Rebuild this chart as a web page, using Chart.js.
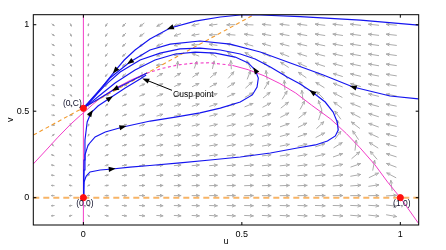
<!DOCTYPE html>
<html><head><meta charset="utf-8">
<script src="https://cdn.jsdelivr.net/npm/chart.js@4.4.1/dist/chart.umd.min.js"></script>
<style>html,body{margin:0;padding:0;background:#fff;overflow:hidden}#wrap{width:446px;height:250px;position:relative}</style>
</head><body><div id="wrap"><canvas id="c"></canvas></div>
<script>
// ---------- axes ----------
const uRange = [-0.158, 1.058];
const vRange = [-0.158, 1.058];
const uTicks = [0, 0.5, 1];
const vTicks = [0, 0.5, 1];

// ---------- direction field (grid + estimated arrow angles, degrees in data space) ----------
const gridU = [-0.096,-0.040,0.016,0.073,0.129,0.185,0.241,0.297,0.354,0.410,0.466,0.522,0.578,0.635,0.691,0.747,0.803,0.859,0.916,0.972];
const gridV = [1.000,0.942,0.884,0.826,0.768,0.709,0.651,0.593,0.535,0.477,0.419,0.361,0.303,0.245,0.187,0.129,0.070,0.012,-0.046,-0.104];
const fieldAngle = [
 [307,284,265,252,242,234,225,216,204,192,182,175,170,168,167,167,168,168,169,170],
 [309,285,265,251,241,232,223,212,197,183,172,165,162,162,162,164,165,166,168,169],
 [312,286,265,250,239,230,220,205,184,165,155,152,152,154,157,159,162,164,166,167],
 [314,287,264,248,238,229,215,187,146,129,127,131,137,144,150,155,158,162,164,166],
 [317,289,264,247,237,228,194,88,79,83,92,104,118,130,141,149,154,159,162,165],
 [320,291,263,246,238,270,47,49,52,57,65,78,94,113,128,141,150,156,160,164],
 [324,294,262,245,345,39,39,39,41,45,50,59,72,92,113,131,144,152,158,162],
 [329,298,261,0,42,37,35,34,35,37,40,46,56,72,94,118,136,148,156,161],
 [336,308,90,56,41,35,32,30,30,31,33,37,44,55,74,101,126,143,153,160],
 [345,9,82,54,39,32,28,27,26,26,28,30,35,43,56,80,112,136,150,158],
 [2,99,80,51,36,29,25,23,22,23,23,25,28,33,42,60,92,125,146,157],
 [56,112,78,46,32,25,22,20,19,19,19,20,22,26,32,44,68,110,140,155],
 [122,120,76,42,28,22,19,17,16,16,16,16,18,20,24,31,48,86,131,153],
 [144,127,73,36,23,18,15,14,13,12,12,13,14,15,18,22,32,57,115,150],
 [156,136,67,29,18,14,12,10,10,9,9,9,10,11,12,15,20,33,84,145],
 [165,147,59,21,13,10,8,7,7,6,6,6,7,7,8,9,12,18,42,136],
 [172,161,42,12,7,5,4,4,4,3,3,3,3,4,4,5,6,8,15,94],
 [179,177,9,2,1,1,1,1,1,1,1,1,1,1,1,1,1,1,2,6],
 [185,192,329,352,355,357,357,358,358,358,358,358,358,358,358,357,357,356,354,348],
 [191,206,307,343,350,352,354,354,355,355,355,355,355,355,355,354,354,352,349,342]
];
const arrowLen = [2.5,2.5,2,3,4,5,6,6.5,7,7.5,8,8.5,8.5,9,9,9.5,9.5,10,10,10];

// ---------- nullclines ----------
const uNullAxis = [[0,-0.158],[0,1.058]];
const uNullLeft = [[-0.158,0.195],[-0.12,0.27],[-0.08,0.35],[-0.04,0.425],[-0.01,0.475],[0,0.49]];
const uNullInner = [[0,0.49],[0.03,0.54],[0.06,0.585],[0.10,0.632],[0.15,0.68],[0.20,0.72]];
const uNullDashed = [[0.20,0.72],[0.25,0.748],[0.30,0.768],[0.35,0.778],[0.40,0.78],[0.47,0.765]];
const uNullRight = [[0.47,0.765],[0.52,0.74],[0.57,0.705],[0.62,0.66],[0.67,0.605],[0.72,0.535],[0.78,0.455],[0.83,0.37],[0.873,0.288],[0.92,0.19],[0.96,0.09],[1.0,0.0],[1.058,-0.15]];
const vNullDiag = [[-0.158,0.362],[0.538,1.058]];
const vNullAxis = [[-0.158,0],[1.058,0]];

// ---------- trajectories (time-forward order) ----------
const traj1 = [[1.057,0.998],[0.874,1.027],[0.684,1.047],[0.558,1.056],[0.495,1.056],[0.432,1.045],[0.353,1.021],[0.274,0.981],[0.210,0.917],[0.163,0.854],[0.129,0.796],[0.100,0.733],[0.069,0.663],[0.037,0.588],[0.015,0.542],[0,0.517]];
const traj2 = [[1.057,0.571],[0.968,0.588],[0.851,0.640],[0.757,0.709],[0.653,0.779],[0.558,0.842],[0.463,0.888],[0.368,0.906],[0.274,0.888],[0.210,0.854],[0.147,0.784],[0.084,0.692],[0.037,0.594],[0.009,0.536],[0,0.517]];
const traj3 = [[0,0],[0.001,0.045],[0.002,0.091],[0.009,0.125],[0.021,0.149],[0.053,0.160],[0.091,0.166],[0.147,0.177],[0.210,0.186],[0.305,0.201],[0.400,0.218],[0.495,0.235],[0.590,0.258],[0.675,0.287],[0.732,0.305],[0.770,0.328],[0.795,0.357],[0.804,0.391],[0.801,0.438],[0.788,0.495],[0.763,0.553],[0.722,0.611],[0.684,0.657],[0.643,0.698],[0.590,0.755],[0.542,0.802],[0.495,0.831],[0.432,0.854],[0.368,0.865],[0.305,0.860],[0.242,0.836],[0.179,0.796],[0.116,0.727],[0.069,0.651],[0.037,0.588],[0.015,0.547],[0.002,0.524],[0,0.517]];
const traj4 = [[0,0],[0.001,0.073],[0.002,0.160],[0.005,0.247],[0.015,0.305],[0.037,0.351],[0.069,0.380],[0.125,0.409],[0.211,0.443],[0.290,0.466],[0.368,0.490],[0.432,0.518],[0.495,0.553],[0.533,0.594],[0.548,0.640],[0.552,0.692],[0.542,0.738],[0.520,0.779],[0.479,0.813],[0.416,0.836],[0.353,0.842],[0.290,0.831],[0.226,0.796],[0.163,0.738],[0.100,0.663],[0.053,0.594],[0.021,0.547],[0.005,0.524],[0,0.517]];
const traj5 = [[0,0],[0.001,0.102],[0.002,0.218],[0.005,0.334],[0.012,0.438],[0.024,0.49],[0.046,0.53],[0.084,0.576],[0.132,0.634],[0.179,0.686],[0.198,0.709]];
const traj6 = [[0.201,0.721],[0.163,0.686],[0.132,0.657],[0.100,0.628],[0.069,0.594],[0.037,0.559],[0.015,0.536],[0,0.517]];
const trajectories = [traj1, traj2, traj3, traj4, traj5, traj6];
// indices along each trajectory where a direction arrowhead sits
const trajArrowIdx = [[7,11],[2,10],[6,21],[7,16],[5,7],[3]];

// ---------- equilibria and annotations ----------
const eqU = [0, 0, 1];
const eqV = [0, 0.517, 0];
const eqLabels = ['(0,0)', '(0,C)', '(1,0)'];
const cuspU = 0.185, cuspV = 0.69;
const cuspLabel = 'Cusp point';

const xy = a => a.map(p => ({x: p[0], y: p[1]}));
const FONT = 'Liberation Sans, Arial, Helvetica, sans-serif';
const BLUE = '#1414f0', MAG = '#f23cc8';

const lineDS = (data, color, width, dash) => ({data: xy(data), showLine: true, borderColor: color, borderWidth: width, borderDash: dash || [], pointRadius: 0, fill: false, tension: 0});

const datasets = [];
datasets.push({data: eqU.map((u,i)=>({x:u,y:eqV[i]})), pointRadius: 3.1, pointBackgroundColor: '#ff1010', pointBorderColor: '#ff1010', showLine: false, order: 0});
trajectories.forEach(t => { const d = lineDS(t, BLUE, 1.15); d.order = 1; datasets.push(d); });
[[vNullDiag,'#f39a2c',1.1,[4,3]],[vNullAxis,'#f8b466',2,[6,4]]].forEach(o=>{const d=lineDS(o[0],o[1],o[2],o[3]); d.order=2; datasets.push(d);});
[[uNullAxis,MAG,1,null],[uNullLeft,MAG,1,null],[uNullInner,MAG,1,null],[uNullDashed,MAG,1.1,[3,2.5]],[uNullRight,MAG,1,null]].forEach(o=>{const d=lineDS(o[0],o[1],o[2],o[3]); d.order=3; datasets.push(d);});

function arrowHead(ctx, x, y, dx, dy, len, half, color){
  const n = Math.hypot(dx,dy)||1; dx/=n; dy/=n;
  const tx = x + dx*len/2, ty = y + dy*len/2;
  const bx = x - dx*len/2, by = y - dy*len/2;
  ctx.beginPath();
  ctx.moveTo(tx,ty);
  ctx.lineTo(bx - dy*half, by + dx*half);
  ctx.lineTo(bx + dy*half, by - dx*half);
  ctx.closePath();
  ctx.fillStyle = color; ctx.fill();
}

const phasePlugin = {
  id: 'phase',
  beforeDatasetsDraw(chart){
    const ctx = chart.ctx, xs = chart.scales.x, ys = chart.scales.y;
    const pu = xs.getPixelForValue(1) - xs.getPixelForValue(0);
    const pv = ys.getPixelForValue(0) - ys.getPixelForValue(1);
    ctx.save();
    ctx.strokeStyle = '#ababab'; ctx.lineWidth = 1; ctx.lineCap='round';
    gridV.forEach((v,i)=>{
      gridU.forEach((u,j)=>{
        const th = fieldAngle[i][j]*Math.PI/180;
        let dx = Math.cos(th)*pu, dy = -Math.sin(th)*pv;
        const n = Math.hypot(dx,dy); dx/=n; dy/=n;
        const L = arrowLen[j];
        const cx = xs.getPixelForValue(u), cy = ys.getPixelForValue(v);
        const x0 = cx - dx*L/2, y0 = cy - dy*L/2, x1 = cx + dx*L/2, y1 = cy + dy*L/2;
        ctx.beginPath(); ctx.moveTo(x0,y0); ctx.lineTo(x1,y1);
        const h = Math.min(3, L*0.45), a = 0.45;
        const ca = Math.cos(a), sa = Math.sin(a);
        ctx.moveTo(x1,y1); ctx.lineTo(x1 - h*(dx*ca - dy*sa), y1 - h*(dy*ca + dx*sa));
        ctx.moveTo(x1,y1); ctx.lineTo(x1 - h*(dx*ca + dy*sa), y1 - h*(dy*ca - dx*sa));
        ctx.stroke();
      });
    });
    ctx.restore();
  },
  afterDatasetsDraw(chart){
    const ctx = chart.ctx, xs = chart.scales.x, ys = chart.scales.y, ca = chart.chartArea;
    ctx.save();
    trajectories.forEach((t,k)=>{
      trajArrowIdx[k].forEach(i=>{
        const p = t[i], q = t[Math.min(i+1,t.length-1)], r = t[Math.max(i-1,0)];
        const x = xs.getPixelForValue(p[0]), y = ys.getPixelForValue(p[1]);
        const dx = xs.getPixelForValue(q[0]) - xs.getPixelForValue(r[0]);
        const dy = ys.getPixelForValue(q[1]) - ys.getPixelForValue(r[1]);
        arrowHead(ctx, x, y, dx, dy, 7, 2.6, '#000');
      });
    });
    const cx = xs.getPixelForValue(cuspU), cy = ys.getPixelForValue(cuspV);
    ctx.strokeStyle = '#000'; ctx.lineWidth = 1;
    ctx.beginPath(); ctx.moveTo(cx+30, cy+12); ctx.lineTo(cx+4, cy+1.6); ctx.stroke();
    arrowHead(ctx, cx+3.5, cy+1.4, -26, -10.4, 7, 2.6, '#000');
    ctx.fillStyle = '#000'; ctx.font = '8.5px ' + FONT; ctx.textAlign='left'; ctx.textBaseline='middle';
    ctx.fillText(cuspLabel, cx+31, cy+16.5);
    ctx.fillStyle = '#10102a'; ctx.font = '8.5px ' + FONT; ctx.textAlign='center';
    const offs = [[1.5,6],[-11,-5],[1.5,6]];
    eqU.forEach((u,i)=>{
      ctx.fillText(eqLabels[i], xs.getPixelForValue(u)+offs[i][0], ys.getPixelForValue(eqV[i])+offs[i][1]);
    });
    ctx.strokeStyle = '#000'; ctx.lineWidth = 1;
    ctx.strokeRect(ca.left, ca.top, ca.right-ca.left, ca.bottom-ca.top);
    ctx.beginPath();
    uTicks.forEach(t=>{ const x = xs.getPixelForValue(t); ctx.moveTo(x, ca.bottom); ctx.lineTo(x, ca.bottom-3); ctx.moveTo(x, ca.top); ctx.lineTo(x, ca.top+3); });
    vTicks.forEach(t=>{ const y = ys.getPixelForValue(t); ctx.moveTo(ca.left, y); ctx.lineTo(ca.left+3, y); ctx.moveTo(ca.right, y); ctx.lineTo(ca.right-3, y); });
    ctx.stroke();
    ctx.restore();
  }
};

new Chart(document.getElementById('c'), {
  type: 'scatter',
  data: {datasets},
  options: {
    responsive: true, maintainAspectRatio: false, animation: false, devicePixelRatio: 1,
    layout: {padding: {top: 14.7, right: 27.3, left: 0, bottom: 0}},
    plugins: {legend: {display: false}, tooltip: {enabled: false}},
    scales: {
      x: {type: 'linear', min: uRange[0], max: uRange[1],
          afterBuildTicks: s => { s.ticks = uTicks.map(v => ({value: v})); },
          afterFit: s => { s.height = 25; },
          grid: {display: false, drawTicks: false}, border: {display: false},
          ticks: {padding: 4, color: '#000', font: {family: FONT, size: 9}, maxRotation: 0, autoSkip: false, callback: v => String(v)},
          title: {display: true, text: 'u', color: '#000', font: {family: FONT, size: 9}, padding: {top: 0, bottom: 3}}},
      y: {type: 'linear', min: vRange[0], max: vRange[1],
          afterBuildTicks: s => { s.ticks = vTicks.map(v => ({value: v})); },
          afterFit: s => { s.width = 33.3; },
          grid: {display: false, drawTicks: false}, border: {display: false},
          ticks: {padding: 4, color: '#000', font: {family: FONT, size: 9}, autoSkip: false, callback: v => String(v)},
          title: {display: true, text: 'v', color: '#000', font: {family: FONT, size: 9}, padding: {top: 5.6, bottom: 0}}}
    }
  },
  plugins: [phasePlugin]
});
</script>
</body></html>
